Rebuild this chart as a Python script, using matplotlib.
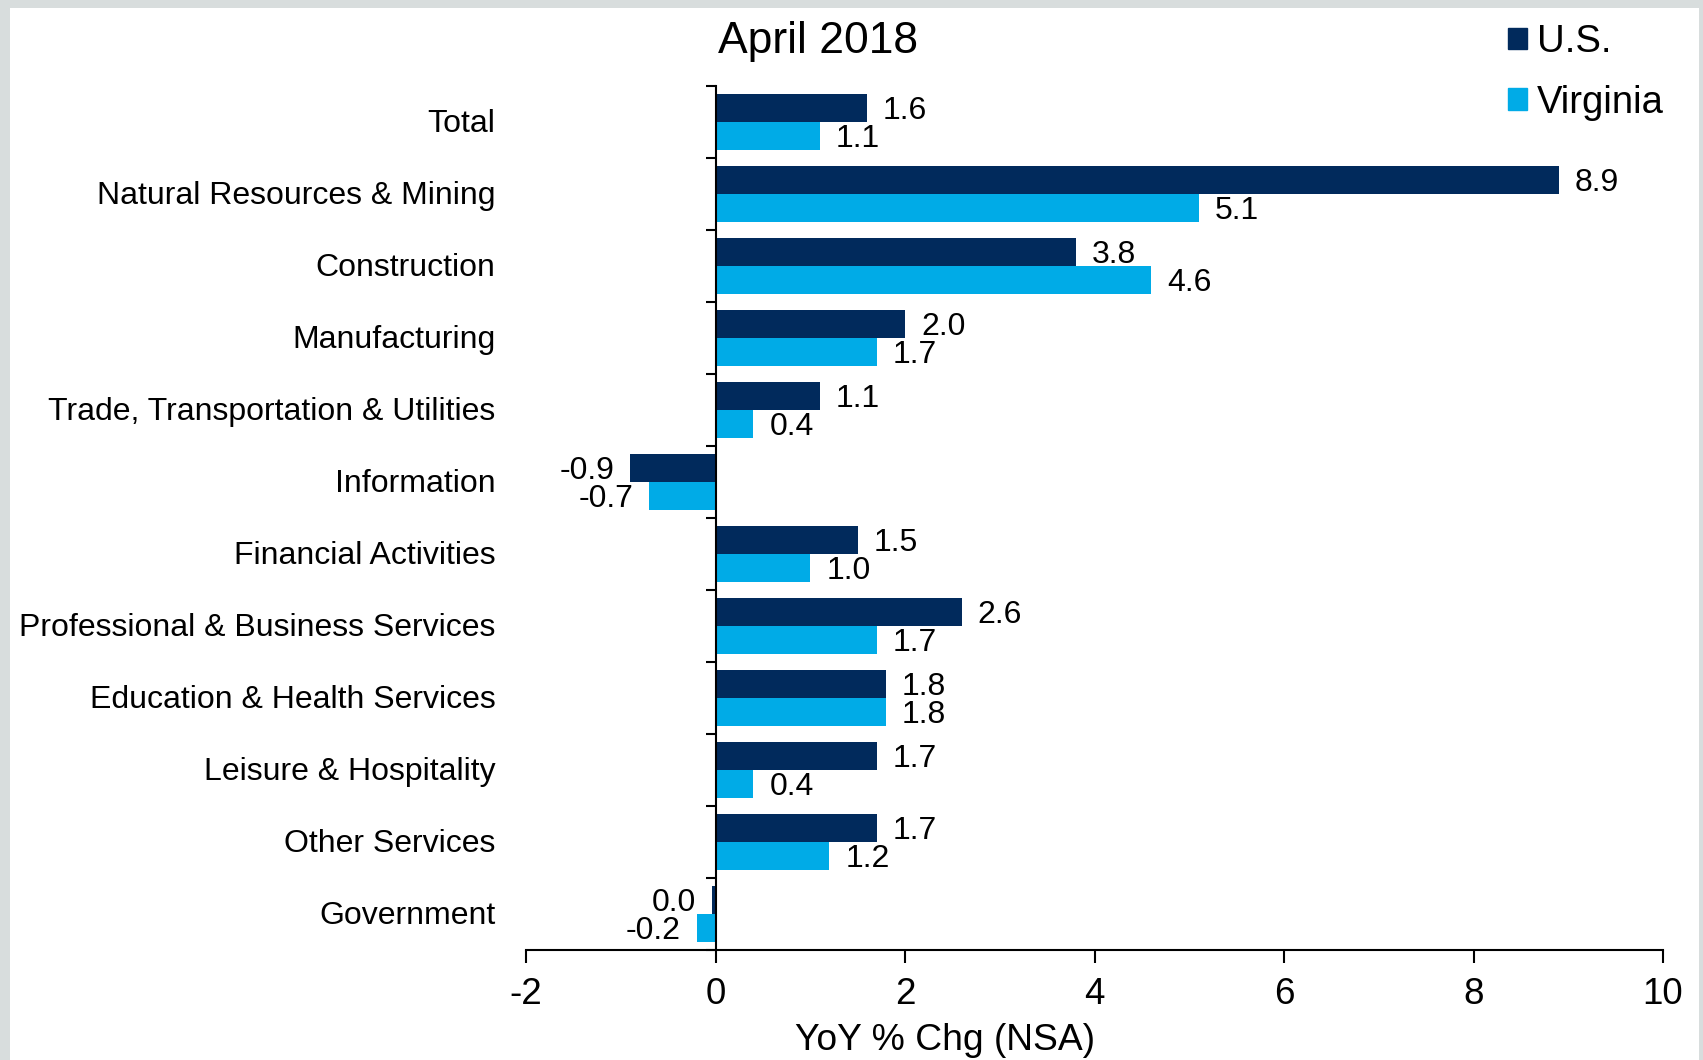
import numpy as np
import matplotlib.pyplot as plt
from matplotlib.patches import Patch, Rectangle

plt.rcParams['font.family'] = ['Liberation Sans', 'DejaVu Sans']

categories = ["Total", "Natural Resources & Mining", "Construction", "Manufacturing",
              "Trade, Transportation & Utilities", "Information", "Financial Activities",
              "Professional & Business Services", "Education & Health Services",
              "Leisure & Hospitality", "Other Services", "Government"]
us_vals = [1.6, 8.9, 3.8, 2.0, 1.1, -0.9, 1.5, 2.6, 1.8, 1.7, 1.7, -0.04]
va_vals = [1.1, 5.1, 4.6, 1.7, 0.4, -0.7, 1.0, 1.7, 1.8, 0.4, 1.2, -0.2]
series_names = ["U.S.", "Virginia"]
xticks = [-2, 0, 2, 4, 6, 8, 10]

US_COLOR = "#012a5c"
VA_COLOR = "#00abe7"
BG_GRAY = "#d8dddd"


def fmt(v):
    s = "%.1f" % v
    return "0.0" if s == "-0.0" else s


def main():
    fig = plt.figure(figsize=(17.03, 10.6), dpi=100, facecolor=BG_GRAY)
    fig.patches.append(Rectangle((10 / 1703, 0), 1689 / 1703, 1 - 8 / 1060,
                                 transform=fig.transFigure, facecolor="white",
                                 edgecolor="none", zorder=-10))
    ax = fig.add_axes([526 / 1703, 1 - 950 / 1060, 1137 / 1703, 864 / 1060])
    ax.set_facecolor("none")

    y = np.arange(len(categories))
    h = 0.39
    ax.barh(y - h / 2, us_vals, height=h, color=US_COLOR)
    ax.barh(y + h / 2, va_vals, height=h, color=VA_COLOR)

    for vals, off in ((us_vals, -h / 2), (va_vals, h / 2)):
        for yi, v in zip(y, vals):
            ax.annotate(fmt(v), xy=(v, yi + off), xytext=(11.5 if v >= 0 else -11.5, -2),
                        textcoords="offset points", ha="left" if v >= 0 else "right",
                        va="center", fontsize=23)

    for yi, cat in zip(y, categories):
        ax.annotate(cat, xy=(0, yi), xycoords=("axes fraction", "data"),
                    xytext=(-22, -1.5), textcoords="offset points",
                    ha="right", va="center", fontsize=23)

    ax.set_xlim(-2, 10)
    ax.set_ylim(len(categories) - 0.5, -0.5)
    ax.set_xticks(xticks)
    ax.set_xticklabels([str(t) for t in xticks], fontsize=26.5)
    ax.tick_params(axis="x", length=9.5, width=1.5, pad=10, direction="out")

    ax.spines["top"].set_visible(False)
    ax.spines["right"].set_visible(False)
    ax.spines["left"].set_position(("data", 0))
    for s in ("left", "bottom"):
        ax.spines[s].set_linewidth(1.5)
    ax.set_yticks(np.arange(len(categories) + 1) - 0.5)
    ax.set_yticklabels([])
    ax.tick_params(axis="y", length=7, width=1.5, direction="out")

    fig.text(818 / 1703, 1 - 42 / 1060, "April 2018", ha="center", va="center", fontsize=32)
    fig.text(945 / 1703, 1 - 1041 / 1060, "YoY % Chg (NSA)", ha="center", va="center", fontsize=26.8)

    handles = [Patch(color=US_COLOR), Patch(color=VA_COLOR)]
    fig.legend(handles, series_names, loc="upper left",
               bbox_to_anchor=(1508 / 1703, 1 - 24 / 1060), frameon=False, fontsize=27.5,
               handlelength=0.5, handleheight=0.5, handletextpad=0.25, labelspacing=0.65,
               borderaxespad=0, borderpad=0)

    fig.savefig("out.png", dpi=100, facecolor=BG_GRAY)


if __name__ == "__main__":
    main()
